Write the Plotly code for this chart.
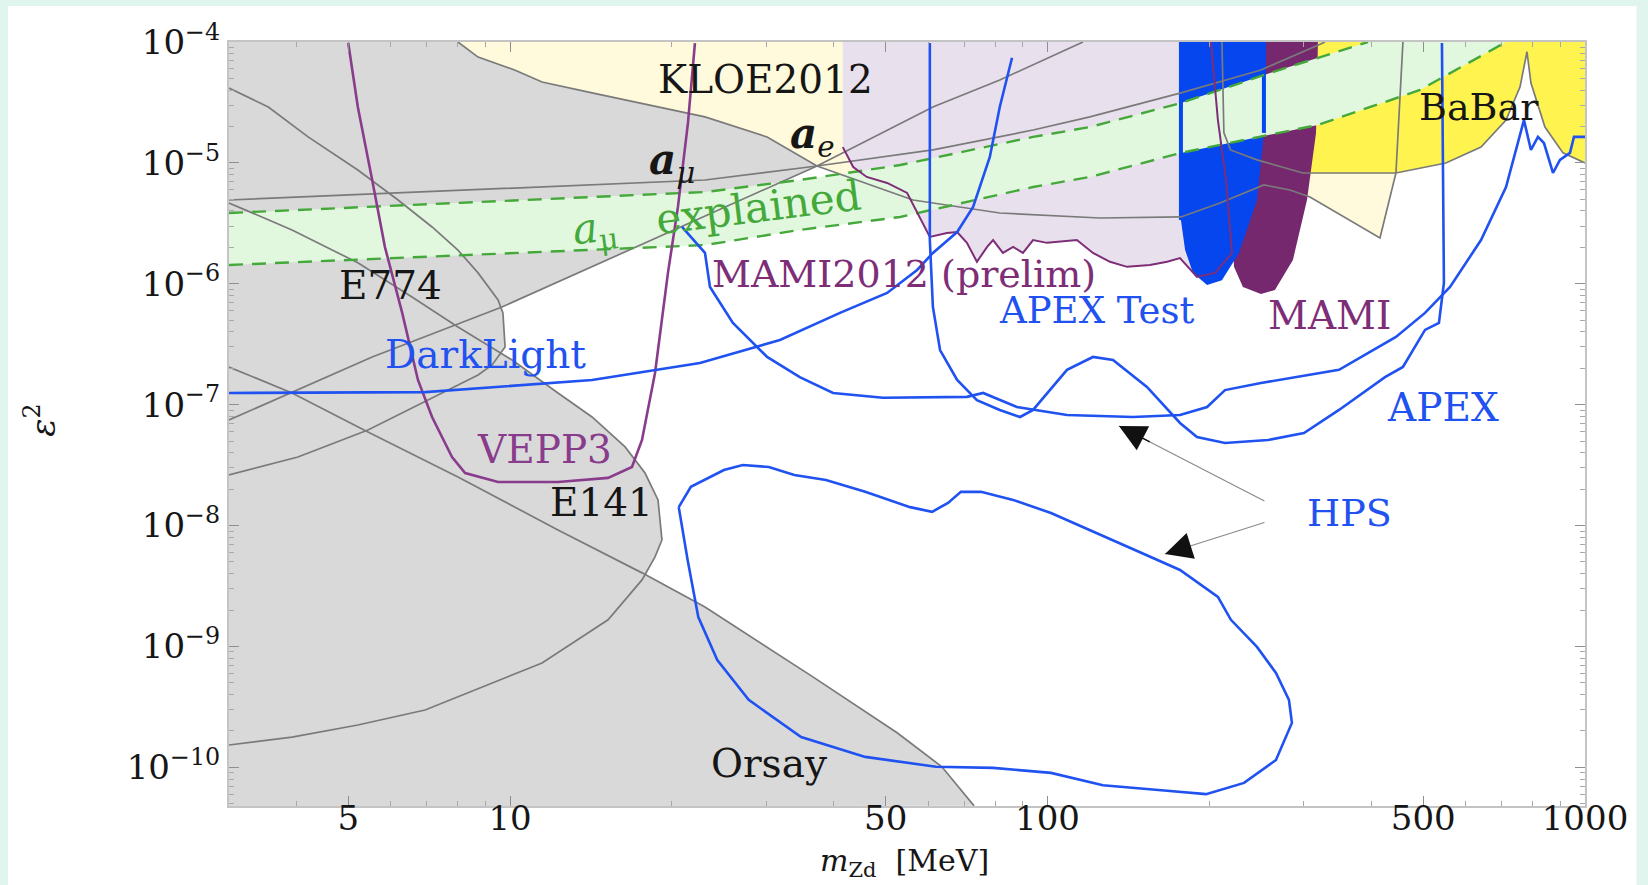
import numpy as np
import plotly.graph_objects as go

# ---------------- axis bounds ----------------
X_MIN, X_MAX = 3.0, 1000.0
Y_MIN, Y_MAX = 10 ** -10.32, 1e-4

# ---------------- data: mass [MeV], epsilon^2 ----------------
ae_m = [3.0, 5.54, 9.66, 20.27, 37.25, 61.2, 81.5, 116.4]
ae_e2 = [7.47e-8, 2.48e-7, 6.43e-7, 2.79e-6, 9.43e-6, 2.90e-5, 4.85e-5, 1.0e-4]

amu_m = [3.0, 23.05, 37.25, 61.2, 94.0, 119.9, 177.1, 249.5, 318.5, 328.3]
amu_e2 = [4.93e-6, 7.22e-6, 9.43e-6, 1.28e-5, 1.87e-5, 2.40e-5, 3.79e-5, 5.87e-5, 9.4e-5, 1.0e-4]

kloe_m = [8.0, 8.72, 10.2, 11.47, 14.21, 23.05, 30.08, 37.25, 56.2, 81.5, 125.2, 177.1,
          209.3, 252.7, 282.5, 307.8, 415.5, 444.9, 458.4]
kloe_e2 = [1e-4, 7.5e-5, 5.87e-5, 4.67e-5, 3.79e-5, 2.40e-5, 1.64e-5, 9.43e-6, 4.93e-6,
           3.85e-6, 3.50e-6, 3.57e-6, 4.66e-6, 6.57e-6, 5.97e-6, 5.22e-6, 2.39e-6, 8.25e-6, 1e-4]

e774_m = [3.0, 3.55, 4.21, 5.21, 6.19, 7.16, 8.0, 8.72, 9.50, 9.70, 9.79, 9.26, 8.72, 7.47,
          5.44, 4.03, 3.0]
e774_e2 = [4.16e-5, 2.90e-5, 1.64e-5, 8.73e-6, 4.93e-6, 2.95e-6, 1.90e-6, 1.23e-6, 7.34e-7,
           5.74e-7, 3.00e-7, 2.13e-7, 1.76e-7, 1.25e-7, 6.18e-8, 3.69e-8, 2.62e-8]

e141_m = [3.0, 3.93, 5.21, 6.57, 8.0, 10.09, 12.28, 14.21, 16.37, 17.83, 18.85, 19.17, 18.61,
          17.60, 15.22, 11.47, 6.95, 5.21, 3.93, 3.0]
e141_e2 = [4.66e-6, 2.79e-6, 1.49e-6, 7.78e-7, 4.39e-7, 2.34e-7, 1.25e-7, 7.91e-8, 4.47e-8,
           2.72e-8, 1.63e-8, 7.6e-9, 5.50e-9, 3.55e-9, 1.66e-9, 7.30e-10, 2.98e-10, 2.24e-10,
           1.78e-10, 1.53e-10]

orsay_m = [3.0, 3.93, 5.44, 8.0, 12.28, 17.60, 23.05, 36.6, 52.5, 63.6, 73.0]
orsay_e2 = [2.05e-7, 1.25e-7, 5.94e-8, 2.52e-8, 9.2e-9, 4.06e-9, 2.12e-9, 5.60e-10, 1.93e-10,
            1.01e-10, 4.8e-11]

babar_m = [211.1, 212.9, 219.0, 245.3, 298.7, 444.9, 551.0, 640.5, 712.9, 756.9, 779.9, 793.3,
           842.3, 910.0, 1000.0]
babar_e2 = [1e-4, 1.77e-5, 1.28e-5, 1.06e-5, 8.25e-6, 8.25e-6, 9.98e-6, 1.35e-5, 2.26e-5,
            4.24e-5, 8.3e-5, 4.58e-5, 1.98e-5, 1.21e-5, 9.98e-6]

mami12_m = [41.6, 43.5, 46.1, 50.3, 54.8, 57.9, 60.4, 65.0, 67.9, 70.8, 73.9, 77.2, 79.2, 82.6,
            86.3, 90.0, 94.0, 99.8, 105.5, 113.4, 121.5, 130.7, 140.6, 155.1, 166.9, 176.4,
            189.7, 204.9, 220.4, 214.8, 207.5, 201.4]
mami12_e2 = [1.35e-5, 9.25e-6, 7.65e-6, 6.82e-6, 5.64e-6, 3.57e-6, 2.44e-6, 2.63e-6, 2.68e-6,
             2.18e-6, 1.52e-6, 2.02e-6, 2.30e-6, 1.80e-6, 2.02e-6, 1.80e-6, 2.30e-6, 2.18e-6,
             2.22e-6, 2.30e-6, 1.80e-6, 1.52e-6, 1.38e-6, 1.43e-6, 1.52e-6, 1.63e-6, 1.14e-6,
             1.23e-6, 1.80e-6, 7.22e-6, 2.26e-5, 1e-4]

mami_m = [213.9, 213.9, 219.4, 222.3, 231.0, 249.5, 264.9, 286.1, 303.9, 315.9, 318.5]
mami_e2 = [1e-4, 1.28e-5, 4.93e-6, 1.38e-6, 9.41e-7, 8.23e-7, 8.88e-7, 1.57e-6, 4.93e-6,
           1.77e-5, 1e-4]

apext_m = [177.1, 177.1, 180.3, 186.5, 198.1, 211.1, 227.1, 245.3, 252.7, 252.7]
apext_e2 = [1e-4, 3.37e-6, 1.90e-6, 1.23e-6, 9.77e-7, 1.07e-6, 1.80e-6, 4.93e-6, 1.77e-5, 1e-4]

band_up_m = [3.0, 23.05, 34.6, 53.2, 94.0, 119.9, 177.1, 259.4, 394.7]
band_up_e2 = [3.85e-6, 5.74e-6, 7.22e-6, 9.6e-6, 1.64e-5, 1.98e-5, 3.13e-5, 5.54e-5, 1e-4]
band_lo_m = [3.0, 23.05, 34.6, 53.2, 94.0, 119.9, 177.1, 318.5, 493.2, 712.9]
band_lo_e2 = [1.43e-6, 2.09e-6, 2.79e-6, 3.57e-6, 6.32e-6, 7.65e-6, 1.21e-5, 2.06e-5, 4.01e-5, 1e-4]

vepp3_m = [5.0, 5.21, 5.54, 5.85, 6.30, 6.74, 7.16, 7.80, 8.25, 9.50, 12.28, 15.22, 16.86,
           17.60, 18.61, 19.67, 20.53, 21.43, 22.08]
vepp3_e2 = [9.8e-5, 2.90e-5, 7.22e-6, 2.02e-6, 5.74e-7, 1.60e-7, 7.91e-8, 3.69e-8, 2.72e-8,
            2.29e-8, 2.29e-8, 2.48e-8, 3.05e-8, 5.10e-8, 1.83e-7, 1.23e-6, 4.32e-6, 2.14e-5, 9.8e-5]

darklight_m = [3.0, 6.95, 14.21, 22.56, 31.78, 41.1, 50.3, 57.2, 61.2, 67.9, 72.7, 78.1, 81.5, 85.9]
darklight_e2 = [1.25e-7, 1.27e-7, 1.60e-7, 2.21e-7, 3.43e-7, 5.74e-7, 8.39e-7, 1.30e-6,
                1.80e-6, 2.68e-6, 4.32e-6, 1.12e-5, 2.90e-5, 7.4e-5]

hps_up_m = [20.89, 23.05, 23.55, 25.98, 30.08, 34.6, 39.9, 49.4, 70.8, 75.9, 87.7, 108.7,
            144.2, 176.4, 198.1, 213.9, 249.5, 348.6, 444.9, 503.9, 560.9, 640.5, 712.9,
            769.9, 793.3, 817.5, 838.8, 871.8, 898.3, 937.6, 953.9, 1000.0]
hps_up_e2 = [2.95e-6, 1.80e-6, 9.41e-7, 4.74e-7, 2.48e-7, 1.69e-7, 1.25e-7, 1.14e-7, 1.16e-7,
             1.25e-7, 9.57e-8, 8.22e-8, 7.91e-8, 8.22e-8, 9.57e-8, 1.32e-7, 1.51e-7, 1.94e-7,
             3.63e-7, 5.74e-7, 9.41e-7, 2.30e-6, 6.32e-6, 2.26e-5, 1.28e-5, 1.64e-5, 1.46e-5,
             8.25e-6, 1.06e-5, 1.21e-5, 1.64e-5, 1.64e-5]

apex_m = [60.4, 60.4, 61.2, 63.1, 67.9, 73.9, 81.5, 88.9, 94.0, 108.7, 121.5, 132.4, 153.1,
          176.4, 189.7, 213.9, 257.1, 300.0, 348.6, 424.5, 458.4, 503.9, 534.9, 546.4, 541.8]
apex_e2 = [9.8e-5, 2.30e-6, 6.43e-7, 2.83e-7, 1.60e-7, 1.09e-7, 9.04e-8, 7.91e-8, 9.04e-8,
           1.94e-7, 2.48e-7, 2.34e-7, 1.40e-7, 7.06e-8, 5.40e-8, 4.82e-8, 5.10e-8, 5.83e-8,
           9.04e-8, 1.69e-7, 2.05e-7, 4.15e-7, 4.74e-7, 1.015e-6, 9.8e-5]

hps_lo_m = [20.6, 21.7, 25.0, 27.1, 30.3, 33.8, 38.7, 45.8, 55.5, 61.0, 65.3, 69.0, 75.2, 86.3,
            101.5, 119.9, 145.4, 176.4, 207.5, 219.4, 245.3, 266.1, 281.3, 284.9, 266.1, 232.1,
            197.2, 166.9, 126.8, 101.5, 79.2, 62.0, 45.8, 34.8, 27.8, 24.3, 22.4, 21.4, 20.6]
hps_lo_e2 = [1.42e-8, 2.09e-8, 2.88e-8, 3.17e-8, 3.05e-8, 2.62e-8, 2.38e-8, 1.90e-8, 1.42e-8,
             1.30e-8, 1.54e-8, 1.90e-8, 1.90e-8, 1.63e-8, 1.27e-8, 9.2e-9, 6.28e-9, 4.29e-9,
             2.57e-9, 1.66e-9, 9.9e-10, 6.04e-10, 3.61e-10, 2.33e-10, 1.15e-10, 7.43e-11,
             6.0e-11, 6.4e-11, 7.1e-11, 8.99e-11, 9.9e-11, 1.01e-10, 1.22e-10, 1.78e-10,
             3.61e-10, 7.73e-10, 1.75e-9, 5.19e-9, 1.42e-8]

x_tick_vals = [5, 10, 50, 100, 500, 1000]
x_tick_text = ["5", "10", "50", "100", "500", "1000"]
y_exps = [-10, -9, -8, -7, -6, -5, -4]

# ---------------- styles ----------------
GRAY_FILL = "#d9d9d9"
GRAY_LINE = "#7a7a7a"
KLOE_FILL = "#fffadb"
MAMI12_FILL = "#e9e0ee"
BABAR_FILL = "#fff44f"
MAMI_FILL = "#76286f"
APEXT_FILL = "#0546ee"
BAND_FILL = "#e1f8df"
GREEN = "#45a83a"
BLUE = "#1f52f0"
PURPLE = "#7d2e77"
VEPP_COL = "#8a3c8c"
FONT = "DejaVu Serif"

fig = go.Figure()


def poly(xs, ys, color):
    fig.add_trace(go.Scatter(x=xs, y=ys, mode="lines", fill="toself", fillcolor=color,
                             line=dict(width=0, color=color), hoverinfo="skip",
                             showlegend=False))


def curve(xs, ys, color, width, dash=None):
    fig.add_trace(go.Scatter(x=xs, y=ys, mode="lines",
                             line=dict(width=width, color=color, dash=dash),
                             hoverinfo="skip", showlegend=False))


# fills (bottom to top)
poly(ae_m + [X_MIN], ae_e2 + [Y_MAX], GRAY_FILL)
poly(e774_m, e774_e2, GRAY_FILL)
poly(e141_m, e141_e2, GRAY_FILL)
poly(orsay_m + [X_MIN], orsay_e2 + [Y_MIN], GRAY_FILL)
poly(kloe_m, kloe_e2, KLOE_FILL)
poly([mami12_m[0]] + mami12_m, [Y_MAX] + mami12_e2, MAMI12_FILL)
poly(babar_m + [X_MAX], babar_e2 + [Y_MAX], BABAR_FILL)
poly(mami_m, mami_e2, MAMI_FILL)
poly(apext_m, apext_e2, APEXT_FILL)
poly(band_up_m + band_lo_m[::-1], band_up_e2 + band_lo_e2[::-1], BAND_FILL)
# edges of the APEX-test region show over the band
curve([apext_m[0], apext_m[1]], [apext_e2[0], apext_e2[1]], APEXT_FILL, 4)
curve([apext_m[-2], apext_m[-1]], [apext_e2[-2], apext_e2[-1]], APEXT_FILL, 4)

# gray boundary lines
for xs, ys in [(ae_m, ae_e2), (amu_m, amu_e2), (kloe_m, kloe_e2), (e774_m, e774_e2),
               (e141_m, e141_e2), (orsay_m, orsay_e2), (babar_m, babar_e2)]:
    curve(xs, ys, GRAY_LINE, 1.7)

# a_mu band dashed lines
curve(band_up_m, band_up_e2, GREEN, 2.4, "14px,9px")
curve(band_lo_m, band_lo_e2, GREEN, 2.4, "14px,9px")

# purple lines
curve(mami12_m, mami12_e2, PURPLE, 2.0)
curve(vepp3_m, vepp3_e2, VEPP_COL, 2.6)

# blue lines
curve(darklight_m, darklight_e2, BLUE, 2.6)
curve(hps_up_m, hps_up_e2, BLUE, 2.6)
curve(apex_m, apex_e2, BLUE, 2.6)
curve(hps_lo_m, hps_lo_e2, BLUE, 2.6)


def label(text, m, e2, color="#161616", size=38, angle=0):
    fig.add_annotation(x=np.log10(m), y=np.log10(e2), xref="x", yref="y", text=text,
                       showarrow=False, textangle=angle, xanchor="center", yanchor="middle",
                       font=dict(family=FONT, size=size, color=color))


label("KLOE2012", 29.9, 4.85e-5, size=39)
label("<b><i>a</i></b><sub><i>e</i></sub>", 36.6, 1.64e-5, size=42)
label("<b><i>a</i></b><sub><i>μ</i></sub>", 20.0, 9.98e-6, size=42)
label("<i>a</i><sub>μ</sub>   explained", 24.3, 3.7e-6, color=GREEN, size=42, angle=-7)
label("E774", 6.0, 9.6e-7, size=39)
label("MAMI2012 (prelim)", 54.1, 1.2e-6, color=PURPLE, size=38)
label("APEX Test", 123.1, 6.0e-7, color=BLUE, size=37)
label("MAMI", 334.0, 5.42e-7, color=PURPLE, size=39)
label("DarkLight", 9.02, 2.58e-7, color=BLUE, size=39)
label("APEX", 544.0, 9.39e-8, color=BLUE, size=39)
label("VEPP3", 11.6, 4.22e-8, color=VEPP_COL, size=39)
label("E141", 14.8, 1.54e-8, size=39)
label("HPS", 365.0, 1.27e-8, color=BLUE, size=38)
label("BaBar", 635.0, 2.90e-5, size=38)
label("Orsay", 30.3, 1.07e-10, size=39)

# HPS arrows: gray shaft + black head
hps_tail_m = 254.9
hps_tail_e2 = [1.57e-8, 1.07e-8]
hps_heads = [(135.8, 6.67e-8), (165.4, 5.82e-9)]
for (hx, hy), ty in zip(hps_heads, hps_tail_e2):
    lx, ly = np.log10(hx), np.log10(hy)
    tx, tyl = np.log10(hps_tail_m), np.log10(ty)
    fig.add_annotation(x=lx, y=ly, ax=tx, ay=tyl, xref="x", yref="y", axref="x", ayref="y",
                       text="", showarrow=True, arrowhead=0, arrowwidth=1.2,
                       arrowcolor="#8a8a8a", standoff=0, startstandoff=0)
    mx, my = lx + 0.22 * (tx - lx), ly + 0.22 * (tyl - ly)
    fig.add_annotation(x=lx, y=ly, ax=mx, ay=my, xref="x", yref="y", axref="x", ayref="y",
                       text="", showarrow=True, arrowhead=2, arrowsize=4.5, arrowwidth=1.2,
                       arrowcolor="#111111", standoff=0, startstandoff=0)

# axis titles
fig.add_annotation(x=0.498, y=-0.1021, xref="paper", yref="paper", xanchor="center",
                   yanchor="bottom", text="<i>m</i><sub>Zd</sub>  [MeV]", showarrow=False,
                   font=dict(family=FONT, size=30, color="#161616"))
fig.add_annotation(x=-0.139, y=0.505, xref="paper", yref="paper", xanchor="center",
                   yanchor="middle", text="<i>ε</i><sup>2</sup>", showarrow=False,
                   textangle=-90, font=dict(family=FONT, size=34, color="#161616"))

# white panel on mint background
fig.add_shape(type="rect", xref="paper", yref="paper", x0=-0.163, x1=1.038, y0=-0.2, y1=1.047,
              fillcolor="white", line=dict(width=0), layer="below")

x_minor = [k * 10 ** p for p in range(0, 3) for k in range(2, 10)]
y_minor = [k * 10.0 ** p for p in range(-11, -4) for k in range(2, 10)]

axis_common = dict(type="log", showgrid=False, zeroline=False, showline=True,
                   linecolor="#c4c4c4", linewidth=2, mirror="ticks", ticks="inside",
                   ticklen=10, tickwidth=1.4, tickcolor="#8f8f8f",
                   tickfont=dict(family=FONT, size=34, color="#161616"))

fig.update_layout(
    width=1648, height=885,
    margin=dict(l=229, r=63, t=42, b=79),
    paper_bgcolor="#e1f5ef", plot_bgcolor="white",
    font=dict(family=FONT),
    showlegend=False,
    xaxis=dict(range=[np.log10(X_MIN), np.log10(X_MAX)], tickmode="array",
               tickvals=x_tick_vals, ticktext=x_tick_text, ticklabelstandoff=-19,
               minor=dict(tickmode="array", tickvals=x_minor, ticks="inside", ticklen=5,
                          tickcolor="#a8a8a8", showgrid=False),
               **axis_common),
    yaxis=dict(range=[np.log10(Y_MIN), np.log10(Y_MAX)], tickmode="array",
               tickvals=[10.0 ** e for e in y_exps],
               ticktext=["10<sup>\u2212%d</sup>" % (-e) for e in y_exps],
               minor=dict(tickmode="array", tickvals=y_minor, ticks="inside", ticklen=5,
                          tickcolor="#a8a8a8", showgrid=False),
               **axis_common),
)

fig.write_html("out.html", config={"displayModeBar": False},
               post_script="document.body.style.margin='0';")
